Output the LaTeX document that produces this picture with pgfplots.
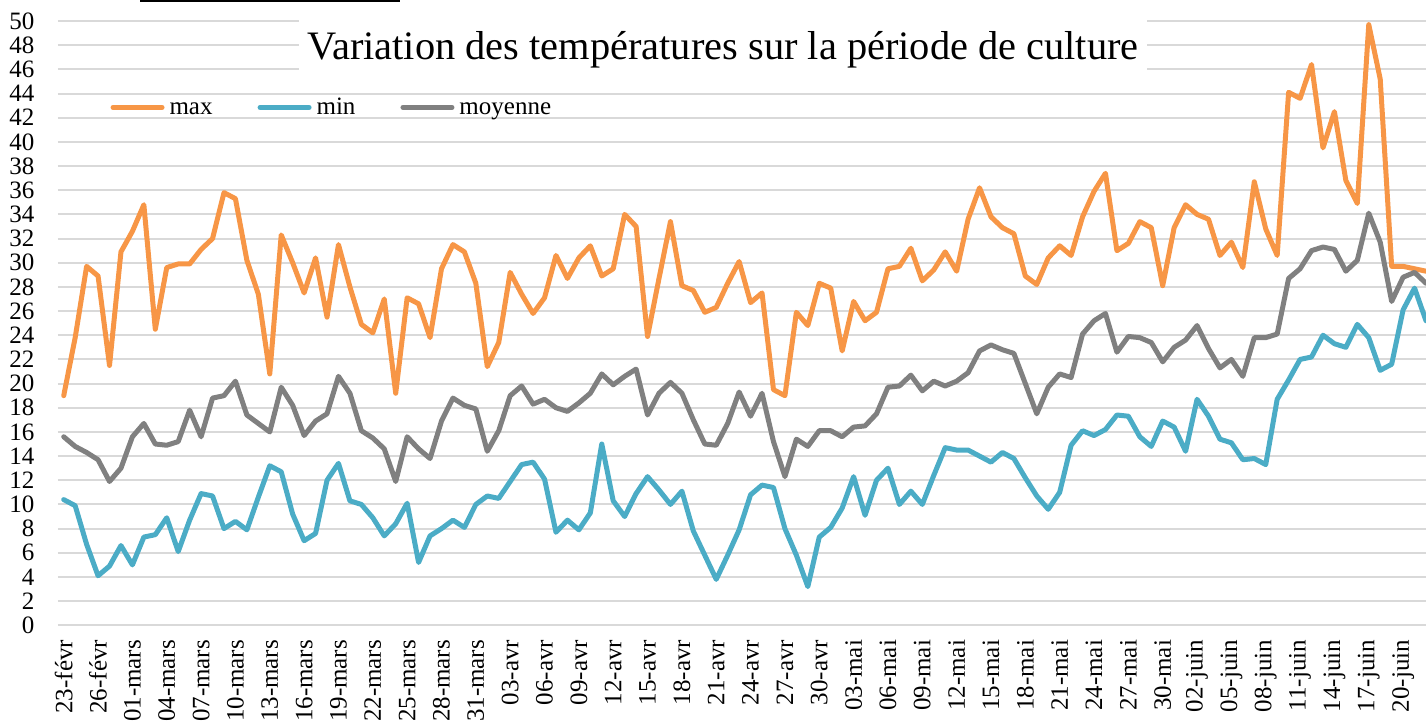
\documentclass[border=0pt]{standalone}
\usepackage{fontspec}
\setmainfont{Liberation Serif}
\usepackage{pgfplots}
\usepackage{pgfplotstable}
\pgfplotsset{compat=1.18}
\definecolor{cmax}{RGB}{247,150,70}
\definecolor{cmin}{RGB}{75,172,198}
\definecolor{cmoy}{RGB}{128,128,128}
\definecolor{gridc}{RGB}{217,217,217}

\pgfplotstableread{
day max min moy
0 19.0 10.4 15.6
1 23.8 9.9 14.8
2 29.7 6.7 14.3
3 28.9 4.1 13.7
4 21.5 4.9 11.9
5 30.9 6.6 13.0
6 32.6 5.0 15.6
7 34.8 7.3 16.7
8 24.5 7.5 15.0
9 29.6 8.9 14.9
10 29.9 6.1 15.2
11 29.9 8.7 17.8
12 31.1 10.9 15.6
13 32.0 10.7 18.8
14 35.8 8.0 19.0
15 35.3 8.6 20.2
16 30.2 7.9 17.4
17 27.4 10.6 16.7
18 20.8 13.2 16.0
19 32.3 12.7 19.7
20 30.0 9.2 18.2
21 27.5 7.0 15.7
22 30.4 7.6 16.9
23 25.5 12.0 17.5
24 31.5 13.4 20.6
25 28.0 10.3 19.2
26 24.9 10.0 16.1
27 24.2 8.9 15.5
28 27.0 7.4 14.6
29 19.2 8.4 11.9
30 27.1 10.1 15.6
31 26.6 5.2 14.6
32 23.8 7.4 13.8
33 29.5 8.0 16.9
34 31.5 8.7 18.8
35 30.9 8.1 18.2
36 28.3 10.0 17.9
37 21.4 10.7 14.4
38 23.4 10.5 16.1
39 29.2 11.9 19.0
40 27.4 13.3 19.8
41 25.8 13.5 18.3
42 27.1 12.1 18.7
43 30.6 7.7 18.0
44 28.7 8.7 17.7
45 30.4 7.9 18.4
46 31.4 9.3 19.2
47 28.9 15.0 20.8
48 29.5 10.3 19.9
49 34.0 9.0 20.6
50 33.0 10.9 21.2
51 23.9 12.3 17.4
52 28.7 11.2 19.2
53 33.4 10.0 20.1
54 28.1 11.1 19.2
55 27.7 7.8 17.0
56 25.9 5.8 15.0
57 26.3 3.8 14.9
58 28.3 5.8 16.7
59 30.1 7.9 19.3
60 26.7 10.8 17.3
61 27.5 11.6 19.2
62 19.5 11.4 15.2
63 19.0 8.0 12.3
64 25.9 5.8 15.4
65 24.8 3.2 14.8
66 28.3 7.3 16.1
67 27.9 8.1 16.1
68 22.7 9.7 15.6
69 26.8 12.3 16.4
70 25.2 9.1 16.5
71 25.9 12.0 17.5
72 29.5 13.0 19.7
73 29.7 10.0 19.8
74 31.2 11.1 20.7
75 28.5 10.0 19.4
76 29.4 12.4 20.2
77 30.9 14.7 19.8
78 29.3 14.5 20.2
79 33.6 14.5 20.9
80 36.2 14.0 22.7
81 33.8 13.5 23.2
82 32.9 14.3 22.8
83 32.4 13.8 22.5
84 28.9 12.2 20.0
85 28.2 10.7 17.5
86 30.4 9.6 19.7
87 31.4 11.0 20.8
88 30.6 14.9 20.5
89 33.8 16.1 24.1
90 35.9 15.7 25.2
91 37.4 16.2 25.8
92 31.0 17.4 22.6
93 31.6 17.3 23.9
94 33.4 15.6 23.8
95 32.9 14.8 23.4
96 28.1 16.9 21.8
97 32.9 16.4 23.0
98 34.8 14.4 23.6
99 34.0 18.7 24.8
100 33.6 17.3 22.9
101 30.6 15.4 21.3
102 31.7 15.1 22.0
103 29.6 13.7 20.6
104 36.7 13.8 23.8
105 32.8 13.3 23.8
106 30.6 18.7 24.1
107 44.1 20.3 28.7
108 43.6 22.0 29.5
109 46.4 22.2 31.0
110 39.5 24.0 31.3
111 42.5 23.3 31.1
112 36.8 23.0 29.3
113 34.9 24.9 30.2
114 49.7 23.8 34.1
115 45.2 21.1 31.7
116 29.7 21.6 26.8
117 29.7 26.1 28.8
118 29.5 27.9 29.2
119 29.3 25.2 28.3
}\temps

\begin{document}
\begin{tikzpicture}
\begin{axis}[
  at={(0pt,0pt)}, anchor=south west,
  scale only axis, width=684pt, height=302.15pt,
  xmin=-0.5, xmax=119, ymin=0, ymax=50,
  ytick distance=2,
  xtick={0,3,...,117},
  xticklabels={23-févr,26-févr,01-mars,04-mars,07-mars,10-mars,13-mars,16-mars,19-mars,22-mars,25-mars,28-mars,31-mars,03-avr,06-avr,09-avr,12-avr,15-avr,18-avr,21-avr,24-avr,27-avr,30-avr,03-mai,06-mai,09-mai,12-mai,15-mai,18-mai,21-mai,24-mai,27-mai,30-mai,02-juin,05-juin,08-juin,11-juin,14-juin,17-juin,20-juin},
  axis line style={draw=none},
  tick style={draw=none},
  major tick length=0pt,
  ymajorgrids,
  major grid style={draw=gridc, line width=1pt},
  tick label style={font=\fontsize{12.5}{15}\selectfont},
  /pgf/number format/assume math mode=true,
  yticklabel style={xshift=-8.3pt},
  xticklabel style={yshift=-3.8pt, rotate=90, anchor=east},
  every axis plot/.append style={line width=2.5pt, line join=round, line cap=round, mark=none},
  legend style={at={(0.0384,0.857)}, anchor=west, draw=none, fill=none,
    legend columns=3, inner sep=0pt, outer sep=0pt,
    font=\fontsize{12.5}{15}\selectfont,
    nodes={inner sep=1pt},
    cells={anchor=base west},
    /tikz/every odd column/.append style={column sep=1.5pt},
    /tikz/every even column/.append style={column sep=21.5pt}},
  legend image code/.code={\draw[#1, line width=2.5pt, line cap=round] (0pt,3.4pt) -- (24.5pt,3.4pt);},
]
\addplot[cmax] table[x=day,y=max]{\temps};
\addlegendentry{max}
\addplot[cmin] table[x=day,y=min]{\temps};
\addlegendentry{min}
\addplot[cmoy] table[x=day,y=moy]{\temps};
\addlegendentry{moyenne}
\end{axis}
\node[fill=white, inner sep=0pt, minimum width=424pt, minimum height=35pt,
  font=\fontsize{20.2}{24}\selectfont] at (332.5pt,287.6pt)
  {Variation des températures sur la période de culture};
\draw[line width=0.85pt] (41pt,312.25pt) -- (171pt,312.25pt);
\pgfresetboundingbox
\path[use as bounding box] (-29pt,-47.35pt) rectangle (684pt,312.65pt);
\end{tikzpicture}
\end{document}
